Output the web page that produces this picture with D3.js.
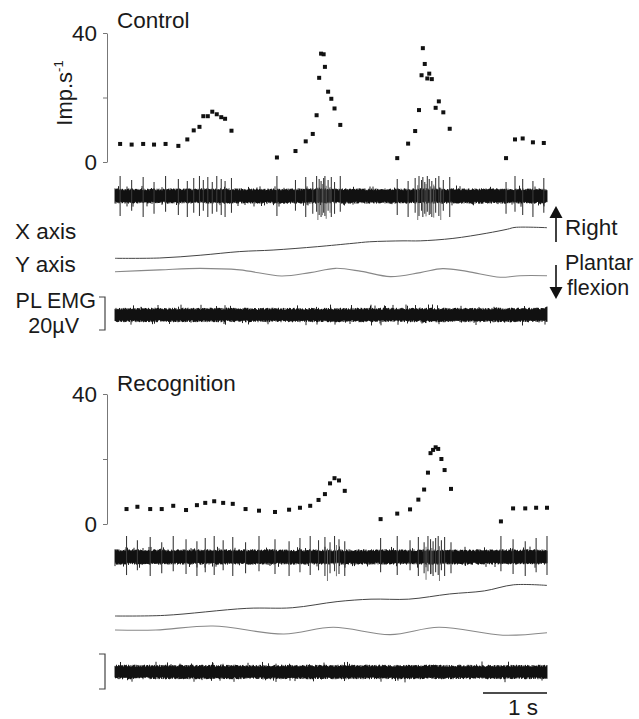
<!DOCTYPE html>
<html>
<head>
<meta charset="utf-8">
<script src="https://cdn.jsdelivr.net/npm/d3@7"></script>
<style>
body { margin: 0; background: #fff; }
text { font-family: "Liberation Sans", Arial, sans-serif; fill: #1a1a1a; }
</style>
</head>
<body>
<svg id="chart" width="639" height="719"></svg>
<script>
// ---- data (time in s, rate in imp/s) ----
var ctrlTime = [0.08,0.26,0.44,0.61,0.79,0.99,1.13,1.23,1.32,1.38,1.45,1.52,1.59,1.66,1.72,1.82,
	2.53,2.82,2.98,3.09,3.15,3.19,3.22,3.26,3.28,3.33,3.38,3.43,3.52,
	4.41,4.58,4.69,4.75,4.79,4.81,4.84,4.88,4.91,4.95,5.01,5.06,5.13,5.23,
	6.11,6.25,6.37,6.53,6.70];
var ctrlRate = [5.6,5.4,5.6,5.4,5.6,5.0,7.0,9.8,10.9,14.2,14.2,15.6,14.8,13.9,13.4,9.7,
	1.4,3.4,6.4,8.7,14.5,26.1,33.6,33.4,29.5,21.8,19.6,16.6,11.5,
	1.2,5.7,9.6,16.1,26.9,35.3,30.4,25.9,27.4,25.7,16.8,18.8,15.4,10.3,
	1.2,7.0,7.3,6.1,5.9];
// other units firing during bursts (no rate plotted)
var ctrlExtra = [3.17,3.24,3.30,3.36, 4.73,4.86,4.93,4.98,5.09];

var recTime = [0.18,0.35,0.55,0.73,0.91,1.11,1.28,1.41,1.55,1.69,1.84,2.04,2.25,2.50,2.72,2.89,3.05,3.18,3.28,3.36,3.43,3.50,3.59,
	4.15,4.41,4.61,4.74,4.83,4.89,4.93,4.97,5.01,5.05,5.10,5.15,5.25,
	6.03,6.22,6.41,6.58,6.75];
var recRate = [4.6,5.3,4.6,4.6,5.6,4.3,5.8,6.5,7.0,6.5,6.2,4.6,4.1,3.7,4.4,5.0,5.6,7.4,9.2,12.5,14.1,13.4,10.2,
	1.5,3.2,4.5,7.5,10.6,15.8,21.8,22.8,23.6,23.1,20.0,16.6,10.8,
	0.8,4.8,4.8,5.0,5.0];
var recExtra = [3.32,3.46,4.86,4.95,5.07];

// foot position traces [time, displacement (arb. units)]
var ctrlXPos = [[0,0],[0.7,0.1],[1.33,1.0],[1.95,2.2],[2.47,2.7],[3.16,3.8],[3.72,4.9],[3.98,5.4],[4.5,5.7],
	[4.77,5.7],[5.28,6.5],[5.81,8.2],[6.13,9.5],[6.25,10.1],[6.75,10.0]];
var ctrlYPos = [[0,0],[0.7,0.6],[1.33,1.1],[1.95,0.6],[2.6,-1.4],[3.05,-0.3],[3.45,1.1],[3.85,0.1],[4.3,-1.6],
	[4.77,-0.3],[5.12,1.0],[5.5,0.1],[6.02,-1.8],[6.33,-1.3],[6.75,-1.3]];
var recXPos = [[0,0],[0.77,0.2],[2.06,2.5],[2.77,2.7],[3.47,4.7],[4.0,5.5],[4.59,5.5],[5.23,7.2],[5.77,8.2],
	[6.23,10.2],[6.75,10.0]];
var recYPos = [[0,0],[0.64,0],[1.53,1.3],[2.64,-1.3],[3.41,0.9],[4.3,-1.5],[5.06,0.9],[6.06,-1.7],[6.75,-0.9]];

var rateTicks = [0, 20, 40];

// ---- layout ----
var svg = d3.select("#chart");
var x = d3.scaleLinear().domain([0, 6.75]).range([115, 547]);

var panels = [
	{title: "Control", titleY: 28, times: ctrlTime, rates: ctrlRate, extra: ctrlExtra, xPos: ctrlXPos, yPos: ctrlYPos,
	 rateRange: [162, 33], spikeY: 196, up: 20, dn: 21, xBase: 258.3, yBase: 271.7, emgY: 315, bracket: [297, 330], seed: 7},
	{title: "Recognition", titleY: 391, times: recTime, rates: recRate, extra: recExtra, xPos: recXPos, yPos: recYPos,
	 rateRange: [524, 394], spikeY: 557, up: 21, dn: 19, xBase: 616, yBase: 630, emgY: 672, bracket: [654, 689], seed: 19}
];

var pattern = [1, 0.8, 0.95, 0.7, 1, 0.85, 0.75, 0.9];

// dense recording noise, texture only
function noiseBand(g, cy, half, jit, seed) {
	var rnd = d3.randomLcg(seed / 100);
	var p = d3.path();
	for (var px = x(0); px <= x(6.75); px += 0.5) {
		var a = half + rnd() * jit * (rnd() < 0.06 ? 2.4 : 1);
		var b = half + rnd() * jit * (rnd() < 0.06 ? 2.4 : 1);
		p.moveTo(px, cy - a);
		p.lineTo(px, cy + b);
	}
	g.append("path").attr("d", p.toString())
		.attr("stroke", "#0a0a0a").attr("stroke-width", 0.9).attr("fill", "none");
}

panels.forEach(function(p, pi) {
	var g = svg.append("g");
	var yRate = d3.scaleLinear().domain([0, 40]).range(p.rateRange);

	// title
	g.append("text").attr("x", 117).attr("y", p.titleY).attr("font-size", 22.5).text(p.title);

	// rate axis
	var ax = g.append("g").attr("transform", "translate(107,0)")
		.call(d3.axisLeft(yRate).tickValues(rateTicks).tickSize(4).tickSizeOuter(0).tickPadding(6)
			.tickFormat(function(d) { return d === 20 ? "" : d; }));
	ax.selectAll("path,line").attr("stroke", "#777");
	ax.selectAll("text").attr("font-size", 22.5).attr("fill", "#1a1a1a")
		.style("font-family", "'Liberation Sans', Arial, sans-serif");

	// rate dots
	g.selectAll("rect.dot").data(p.times).enter().append("rect")
		.attr("class", "dot")
		.attr("x", function(d) { return x(d) - 2; })
		.attr("y", function(d, i) { return yRate(p.rates[i]) - 2; })
		.attr("width", 4).attr("height", 4).attr("fill", "#111");

	// spike train
	noiseBand(g, p.spikeY, 5.5, 2.2, p.seed);
	var spikes = g.append("g").attr("stroke", "#3a3a3a").attr("stroke-width", 1.1);
	spikes.selectAll("line.extra").data(p.extra).enter().append("line")
		.attr("x1", function(d) { return x(d); }).attr("x2", function(d) { return x(d); })
		.attr("y1", function(d, i) { return p.spikeY - 12 * pattern[(i + 3) % 8]; })
		.attr("y2", function(d, i) { return p.spikeY + 24 * pattern[i % 8]; })
		.attr("stroke", "#666").attr("stroke-width", 0.9);
	spikes.selectAll("line.main").data(p.times).enter().append("line")
		.attr("x1", function(d) { return x(d); }).attr("x2", function(d) { return x(d); })
		.attr("y1", function(d, i) { return p.spikeY - p.up * pattern[i % 8]; })
		.attr("y2", function(d, i) { return p.spikeY + p.dn * pattern[(i + 2) % 8]; });

	// foot position traces
	var yX = d3.scaleLinear().domain([0, 10]).range([p.xBase, p.xBase - 30.6]);
	var yY = d3.scaleLinear().domain([0, 10]).range([p.yBase, p.yBase - 30.6]);
	g.append("path").datum(p.xPos)
		.attr("d", d3.line().curve(d3.curveCatmullRom).x(function(d) { return x(d[0]); }).y(function(d) { return yX(d[1]); }))
		.attr("fill", "none").attr("stroke", "#444").attr("stroke-width", 1);
	g.append("path").datum(p.yPos)
		.attr("d", d3.line().curve(d3.curveCatmullRom).x(function(d) { return x(d[0]); }).y(function(d) { return yY(d[1]); }))
		.attr("fill", "none").attr("stroke", "#888").attr("stroke-width", 1.1);

	// EMG
	noiseBand(g, p.emgY, 5, 2.3, p.seed + 50);

	// 20 µV bracket
	g.append("path")
		.attr("d", "M99," + p.bracket[0] + "H105V" + p.bracket[1] + "H99")
		.attr("fill", "none").attr("stroke", "#444").attr("stroke-width", 1.2);
});

// labels of the control panel
svg.append("text").attr("transform", "translate(72,93) rotate(-90)")
	.attr("text-anchor", "middle").attr("font-size", 22)
	.text("Imp.s").append("tspan").attr("font-size", 13).attr("dy", -9).text("-1");

svg.append("text").attr("x", 15).attr("y", 239).attr("font-size", 22.5).text("X axis");
svg.append("text").attr("x", 15).attr("y", 272).attr("font-size", 22.5).text("Y axis");

svg.append("text").attr("x", 96).attr("y", 308).attr("font-size", 21.5).attr("text-anchor", "end").text("PL EMG");
svg.append("text").attr("x", 79).attr("y", 333).attr("font-size", 21.5).attr("text-anchor", "end").text("20µV");

// direction arrows
var arr = svg.append("g");
arr.append("line").attr("x1", 556).attr("x2", 556).attr("y1", 242).attr("y2", 215).attr("stroke", "#111").attr("stroke-width", 1.6);
arr.append("path").attr("d", "M549.5,218L556,206L562.5,218Z").attr("fill", "#111");
arr.append("line").attr("x1", 556).attr("x2", 556).attr("y1", 265).attr("y2", 290).attr("stroke", "#111").attr("stroke-width", 1.6);
arr.append("path").attr("d", "M549.5,287L556,299L562.5,287Z").attr("fill", "#111");
svg.append("text").attr("x", 565).attr("y", 235).attr("font-size", 22.5).text("Right");
svg.append("text").attr("x", 565).attr("y", 270).attr("font-size", 21.5).text("Plantar");
svg.append("text").attr("x", 567).attr("y", 295).attr("font-size", 21.5).text("flexion");

// time scale bar
svg.append("line").attr("x1", x(5.75)).attr("x2", x(6.75)).attr("y1", 693).attr("y2", 693)
	.attr("stroke", "#111").attr("stroke-width", 1.6);
svg.append("text").attr("x", x(6.25) + 8).attr("y", 715).attr("font-size", 22.5).attr("text-anchor", "middle").text("1 s");
</script>
</body>
</html>
